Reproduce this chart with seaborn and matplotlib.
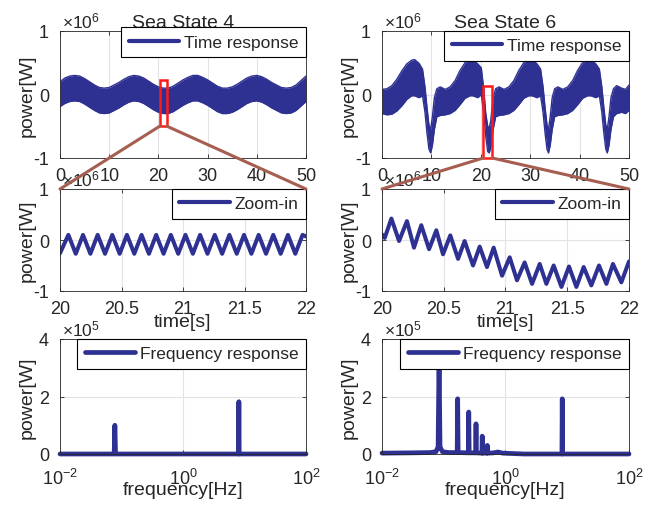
import matplotlib
matplotlib.use("Agg")
import matplotlib.pyplot as plt
import matplotlib.ticker as mticker
from matplotlib.lines import Line2D
from matplotlib.patches import Rectangle, ConnectionPatch
import numpy as np
import pandas as pd
import seaborn as sns

# ---------------- data (power values in units of 1e6 W for time plots, 1e5 W for spectra)
titles = ["Sea State 4", "Sea State 6"]

# Sea state 4 : envelope of the dense time response (upper / lower edge), x1e6 W
ss4_t = list(range(0, 51))
ss4_upper = [0.20, 0.26, 0.29, 0.30, 0.29, 0.25, 0.20, 0.15, 0.11, 0.10, 0.11, 0.15, 0.19,
             0.24, 0.28, 0.30, 0.29, 0.26, 0.21, 0.16, 0.12, 0.10, 0.10, 0.13, 0.18, 0.23,
             0.27, 0.30, 0.30, 0.27, 0.23, 0.18, 0.13, 0.10, 0.10, 0.12, 0.16, 0.21, 0.26,
             0.29, 0.30, 0.28, 0.24, 0.19, 0.15, 0.11, 0.10, 0.11, 0.15, 0.22, 0.29]
ss4_lower = [-0.19, -0.14, -0.11, -0.10, -0.11, -0.15, -0.20, -0.25, -0.29, -0.30, -0.29,
             -0.25, -0.21, -0.16, -0.12, -0.10, -0.11, -0.14, -0.19, -0.24, -0.28, -0.30,
             -0.30, -0.27, -0.22, -0.17, -0.13, -0.10, -0.10, -0.13, -0.17, -0.22, -0.27,
             -0.30, -0.30, -0.28, -0.24, -0.19, -0.14, -0.11, -0.10, -0.12, -0.16, -0.21,
             -0.25, -0.29, -0.30, -0.29, -0.25, -0.18, -0.11]

# Sea state 6 : envelope of the time response, x1e6 W
ss6_t = [0, 1.0, 2.0, 3.0, 4.0, 5.0, 6.0, 6.6, 7.5, 8.2, 8.7, 9.1, 9.5, 9.85, 10.2, 10.6,
         11.1, 11.8, 12.8, 13.8, 14.8, 15.8, 16.8, 17.8, 18.4, 19.4, 20.1, 20.6, 21.0, 21.4,
         21.7, 22.0, 22.5, 23.0, 23.7, 24.7, 25.7, 26.7, 27.7, 28.7, 29.7, 30.4, 31.4, 32.1,
         32.6, 33.0, 33.4, 33.7, 34.05, 34.45, 34.95, 35.6, 36.6, 37.6, 38.6, 39.6, 40.6,
         41.6, 42.3, 43.3, 44.0, 44.5, 44.9, 45.3, 45.6, 45.95, 46.35, 46.85, 47.5, 48.5,
         49.3, 50.0]
ss6_upper = [0.08, 0.09, 0.14, 0.24, 0.37, 0.48, 0.54, 0.55, 0.49, 0.40, 0.12, -0.20, -0.48,
             -0.55, -0.35, -0.05, 0.09, 0.12, 0.08, 0.12, 0.22, 0.38, 0.50, 0.55, 0.55, 0.48,
             0.42, 0.08, -0.30, -0.50, -0.53, -0.42, -0.05, 0.09, 0.12, 0.08, 0.12, 0.22, 0.38,
             0.50, 0.55, 0.55, 0.48, 0.40, 0.12, -0.20, -0.48, -0.55, -0.35, -0.05, 0.09, 0.12,
             0.08, 0.12, 0.22, 0.38, 0.50, 0.55, 0.55, 0.48, 0.40, 0.12, -0.20, -0.48, -0.55,
             -0.35, -0.05, 0.09, 0.14, 0.10, 0.08, 0.15]
ss6_lower = [-0.30, -0.32, -0.31, -0.26, -0.18, -0.08, -0.02, -0.02, -0.05, -0.02, -0.28,
             -0.60, -0.86, -0.92, -0.80, -0.55, -0.35, -0.33, -0.32, -0.30, -0.25, -0.16,
             -0.06, -0.02, -0.02, -0.05, 0.00, -0.30, -0.66, -0.90, -0.92, -0.84, -0.55,
             -0.35, -0.33, -0.32, -0.30, -0.25, -0.16, -0.06, -0.02, -0.02, -0.05, -0.02,
             -0.28, -0.60, -0.86, -0.92, -0.80, -0.55, -0.35, -0.33, -0.32, -0.30, -0.25,
             -0.16, -0.06, -0.02, -0.02, -0.05, -0.02, -0.28, -0.60, -0.86, -0.92, -0.80,
             -0.55, -0.35, -0.30, -0.28, -0.30, -0.25]

# zoom-in (20 s .. 22 s), extrema of the oscillation, x1e6 W
zoom4_t = [20.0, 20.068, 20.128, 20.187, 20.247, 20.306, 20.366, 20.425, 20.485, 20.544,
           20.604, 20.663, 20.723, 20.782, 20.842, 20.901, 20.961, 21.020, 21.080, 21.139,
           21.199, 21.258, 21.318, 21.377, 21.437, 21.496, 21.556, 21.615, 21.675, 21.734,
           21.794, 21.853, 21.913, 21.972, 22.0]
zoom4_p = [-0.26, 0.10, -0.27, 0.10, -0.27, 0.10, -0.27, 0.10, -0.27, 0.10, -0.27, 0.10,
           -0.27, 0.10, -0.27, 0.10, -0.27, 0.10, -0.27, 0.10, -0.27, 0.10, -0.27, 0.10,
           -0.27, 0.10, -0.27, 0.10, -0.27, 0.10, -0.27, 0.10, -0.27, 0.10, 0.07]
zoom6_t = [20.0, 20.022, 20.076, 20.138, 20.202, 20.259, 20.318, 20.381, 20.44, 20.494,
           20.553, 20.616, 20.669, 20.737, 20.791, 20.85, 20.904, 20.972, 21.034, 21.093,
           21.155, 21.215, 21.277, 21.331, 21.39, 21.453, 21.514, 21.574, 21.633, 21.695,
           21.757, 21.817, 21.87, 21.938, 22.0]
zoom6_p = [0.11, 0.04, 0.42, -0.02, 0.37, -0.15, 0.29, -0.18, 0.19, -0.28, 0.09, -0.37,
           -0.02, -0.50, -0.13, -0.53, -0.15, -0.70, -0.34, -0.79, -0.44, -0.86, -0.47,
           -0.86, -0.50, -0.92, -0.52, -0.92, -0.53, -0.89, -0.50, -0.86, -0.47, -0.83, -0.42]

# frequency response, x1e5 W
freq4 = [0.01, 0.076, 0.078, 0.080, 8.0, 8.1, 8.2, 100]
spec4 = [0.0, 0.0, 1.0, 0.0, 0.0, 1.82, 0.0, 0.0]
freq6 = [0.01, 0.03, 0.06, 0.075, 0.081, 0.084, 0.087, 0.095, 0.12, 0.165, 0.168, 0.171,
         0.25, 0.254, 0.258, 0.33, 0.333, 0.336, 0.415, 0.42, 0.425, 0.50, 0.507, 0.514,
         0.65, 0.75, 0.9, 2.0, 8.2, 8.3, 8.4, 100]
spec6 = [0.03, 0.04, 0.05, 0.08, 0.25, 3.3, 0.25, 0.08, 0.05, 0.05, 1.92, 0.05, 0.04,
         1.46, 0.04, 0.04, 1.05, 0.04, 0.03, 0.62, 0.03, 0.03, 0.30, 0.03, 0.04, 0.07,
         0.03, 0.0, 0.0, 1.92, 0.0, 0.0]

# zoom window markers (time range and power range, x1e6 W)
zoom_box4 = (20.25, 21.75, -0.50, 0.23)
zoom_box6 = (20.5, 22.3, -1.0, 0.14)

# ---------------- style
NAVY = "#2E3192"
BROWN = "#A55E4F"
TXT = "#262626"
GRID = "#E3E3E3"
TIME_SCALE = 1e6
SPEC_SCALE = 1e5

sns.set_theme(style="white")
plt.rcParams["font.family"] = ["Liberation Sans", "DejaVu Sans"]
plt.rcParams["mathtext.fontset"] = "custom"
plt.rcParams["mathtext.rm"] = "Liberation Sans"
plt.rcParams["mathtext.it"] = "Liberation Sans:italic"
plt.rcParams["axes.unicode_minus"] = False

W, H = 656, 506
fig = plt.figure(figsize=(W / 100, H / 100), dpi=100)


def box(x0, x1, ytop, ybot):
    return [x0 / W, 1 - ybot / H, (x1 - x0) / W, (ybot - ytop) / H]


ax_t4 = fig.add_axes(box(60, 306, 32, 159))
ax_t6 = fig.add_axes(box(382, 629, 32, 159))
ax_z4 = fig.add_axes(box(60, 306, 190, 292))
ax_z6 = fig.add_axes(box(382, 629, 190, 292))
ax_f4 = fig.add_axes(box(60, 306, 340, 455))
ax_f6 = fig.add_axes(box(382, 629, 340, 455))


def style(ax):
    for s in ax.spines.values():
        s.set_color(TXT)
        s.set_linewidth(0.6)
        s.set_visible(True)
    ax.tick_params(direction="in", length=3, width=0.6, colors=TXT, labelsize=13,
                   top=True, right=True, bottom=True, left=True)
    ax.tick_params(axis="x", pad=6.5)
    ax.tick_params(axis="y", pad=8)
    ax.grid(True, color=GRID, lw=0.8)
    ax.set_axisbelow(True)


def sci(ax, scale, exp):
    ax.yaxis.set_major_formatter(mticker.FuncFormatter(lambda v, _: f"{v / scale:g}"))
    ax.text(0.01, 1.008, r"$\times\mathdefault{10^{%d}}$" % exp, transform=ax.transAxes,
            ha="left", va="bottom", fontsize=12.5, color=TXT)


def ylabel(ax):
    ax.set_ylabel("power[W]", fontsize=14, color=TXT)
    ax.yaxis.set_label_coords(-0.10, 0.5)


def legend(ax, label, lw, anchor_y=1.0):
    h = [Line2D([0], [0], color=NAVY, lw=lw)]
    lg = ax.legend(h, [label], loc="upper right", bbox_to_anchor=(1.0, anchor_y),
                   borderaxespad=0, fontsize=12.5, handlelength=2.9, handletextpad=0.3,
                   frameon=True, fancybox=False, framealpha=1, borderpad=0.42)
    lg.get_frame().set_edgecolor("black")
    lg.get_frame().set_linewidth(0.8)
    for t in lg.get_texts():
        t.set_color(TXT)


# ---- time responses
for ax, t, up, lo, title, ay in [(ax_t4, ss4_t, ss4_upper, ss4_lower, titles[0], 1.03),
                                 (ax_t6, ss6_t, ss6_upper, ss6_lower, titles[1], 1.0)]:
    style(ax)
    df = pd.DataFrame({"t": t, "upper": np.array(up) * TIME_SCALE,
                       "lower": np.array(lo) * TIME_SCALE})
    ax.fill_between(df["t"], df["lower"], df["upper"], color=NAVY, lw=0)
    sns.lineplot(data=df, x="t", y="upper", ax=ax, color=NAVY, lw=1, sort=False, estimator=None)
    sns.lineplot(data=df, x="t", y="lower", ax=ax, color=NAVY, lw=1, sort=False, estimator=None)
    ax.set_xlim(0, 50)
    ax.set_ylim(-1 * TIME_SCALE, 1 * TIME_SCALE)
    ax.set_xticks([0, 10, 20, 30, 40, 50])
    ax.set_yticks([-TIME_SCALE, 0, TIME_SCALE])
    sci(ax, TIME_SCALE, 6)
    ax.set_xlabel("")
    ylabel(ax)
    ax.set_title(title, fontsize=14, color=TXT, pad=3)
    legend(ax, "Time response", 3, ay)

# ---- zoom-in
for ax, t, p in [(ax_z4, zoom4_t, zoom4_p), (ax_z6, zoom6_t, zoom6_p)]:
    style(ax)
    df = pd.DataFrame({"t": t, "p": np.array(p) * TIME_SCALE})
    sns.lineplot(data=df, x="t", y="p", ax=ax, color=NAVY, lw=2.9, sort=False,
                 estimator=None, solid_joinstyle="round", solid_capstyle="round")
    ax.set_xlim(20, 22)
    ax.set_ylim(-TIME_SCALE, TIME_SCALE)
    ax.set_xticks([20, 20.5, 21, 21.5, 22])
    ax.xaxis.set_major_formatter(mticker.FuncFormatter(lambda v, _: f"{v:g}"))
    ax.set_yticks([-TIME_SCALE, 0, TIME_SCALE])
    sci(ax, TIME_SCALE, 6)
    ax.set_xlabel("time[s]", fontsize=14, color=TXT)
    ax.xaxis.set_label_coords(0.5, -0.22)
    ylabel(ax)
    legend(ax, "Zoom-in", 3)

# ---- frequency response
for ax, f, s in [(ax_f4, freq4, spec4), (ax_f6, freq6, spec6)]:
    style(ax)
    df = pd.DataFrame({"f": f, "s": np.array(s) * SPEC_SCALE})
    sns.lineplot(data=df, x="f", y="s", ax=ax, color=NAVY, lw=3.4, sort=False,
                 estimator=None, clip_on=False)
    ax.set_xscale("log")
    ax.set_xlim(1e-2, 1e2)
    ax.set_ylim(0, 4 * SPEC_SCALE)
    ax.set_xticks([1e-2, 1e0, 1e2])
    ax.xaxis.set_minor_locator(mticker.NullLocator())
    ax.tick_params(axis="x", pad=10)
    ax.set_yticks([0, 2 * SPEC_SCALE, 4 * SPEC_SCALE])
    sci(ax, SPEC_SCALE, 5)
    ax.set_xlabel("frequency[Hz]", fontsize=14, color=TXT)
    ax.xaxis.set_label_coords(0.5, -0.232)
    ylabel(ax)
    legend(ax, "Frequency response", 3.4)

# ---- zoom window markers and connectors
for ax_top, ax_mid, (t0, t1, y0, y1) in [(ax_t4, ax_z4, zoom_box4), (ax_t6, ax_z6, zoom_box6)]:
    rect = Rectangle((t0, y0 * TIME_SCALE), t1 - t0, (y1 - y0) * TIME_SCALE, fill=False,
                     ec="#FF1A1A", lw=1.8, zorder=5, clip_on=False)
    ax_top.add_patch(rect)
    for xa, xb in [(t0, 0.0), (t1, 1.0)]:
        con = ConnectionPatch(xyA=(xa, y0 * TIME_SCALE), coordsA=ax_top.transData,
                              xyB=(xb, 1.0), coordsB=ax_mid.transAxes,
                              color=BROWN, lw=2.2, zorder=6)
        fig.add_artist(con)

fig.savefig("out.png", dpi=100)
